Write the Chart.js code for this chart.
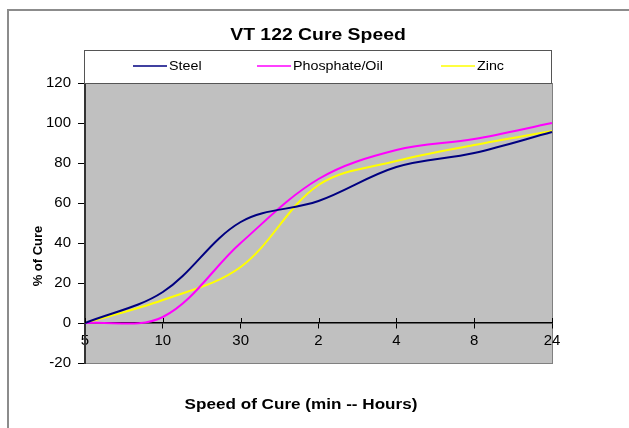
<!DOCTYPE html>
<html>
<head>
<meta charset="utf-8">
<script src="https://cdn.jsdelivr.net/npm/chart.js@4.4.0/dist/chart.umd.min.js"></script>
<style>
  body { margin: 0; background: #fff; }
  canvas { display: block; }
</style>
</head>
<body>
<canvas id="chart" width="629" height="428"></canvas>
<script>
// cure time categories (minutes then hours)
const categories = ['5', '10', '30', '2', '4', '8', '24'];
const steel = [0, 15.5, 50.5, 61, 78, 85, 95.5];
const phosphateOil = [0, 3, 40, 72, 86.5, 92, 100];
const zinc = [0, 11.5, 28, 69, 81, 89, 96];
const yTicks = [-20, 0, 20, 40, 60, 80, 100, 120];

const FONT = '"Liberation Sans", Arial, sans-serif';
const STRETCH = 1.14; // the source text is a bit wider than plain Arial

function wideText(ctx, text, x, y, sx) {
  ctx.save();
  ctx.translate(x, y);
  ctx.scale(sx, 1);
  ctx.fillText(text, 0, 0);
  ctx.restore();
}

// backgrounds, borders, title, legend box and axis titles
const decor = {
  id: 'decor',
  beforeDraw(chart) {
    const { ctx, chartArea: a } = chart;
    ctx.save();
    ctx.fillStyle = '#fff';
    ctx.fillRect(0, 0, chart.width, chart.height);
    // outer frame (cropped)
    ctx.strokeStyle = '#8c8c8c';
    ctx.lineWidth = 2;
    ctx.beginPath();
    ctx.moveTo(8, chart.height + 5);
    ctx.lineTo(8, 10);
    ctx.lineTo(chart.width + 5, 10);
    ctx.stroke();
    // plot area
    ctx.fillStyle = '#c0c0c0';
    ctx.fillRect(a.left, a.top, a.right - a.left, a.bottom - a.top);
    ctx.strokeStyle = '#808080';
    ctx.lineWidth = 1;
    ctx.strokeRect(a.left + 0.5, a.top + 0.5, a.right - a.left, a.bottom - a.top);
    ctx.restore();
  },
  afterDraw(chart) {
    const { ctx } = chart;
    ctx.save();
    // upper half of the crossing x ticks
    const y0 = chart.scales.y.getPixelForValue(0);
    ctx.strokeStyle = '#000';
    ctx.lineWidth = 1;
    categories.forEach((c, i) => {
      const x = Math.round(chart.scales.x.getPixelForValue(i)) + 0.5;
      ctx.beginPath();
      ctx.moveTo(x, y0 - 5);
      ctx.lineTo(x, y0);
      ctx.stroke();
    });

    // title
    ctx.fillStyle = '#000';
    ctx.textAlign = 'center';
    ctx.textBaseline = 'middle';
    ctx.font = 'bold 17px ' + FONT;
    wideText(ctx, 'VT 122 Cure Speed', 318, 35, STRETCH);

    // legend box
    ctx.fillStyle = '#fff';
    ctx.fillRect(84, 50, 467, 33);
    ctx.strokeStyle = '#555';
    ctx.strokeRect(84.5, 50.5, 467, 33);
    const items = [
      { x: 133, label: 'Steel', color: '#000080' },
      { x: 257, label: 'Phosphate/Oil', color: '#ff00ff' },
      { x: 441, label: 'Zinc', color: '#ffff00' }
    ];
    ctx.font = '13px ' + FONT;
    ctx.textAlign = 'left';
    items.forEach(it => {
      ctx.strokeStyle = it.color;
      ctx.lineWidth = 1.5;
      ctx.beginPath();
      ctx.moveTo(it.x, 66);
      ctx.lineTo(it.x + 34, 66);
      ctx.stroke();
      ctx.fillStyle = '#000';
      wideText(ctx, it.label, it.x + 36, 66, 1.1);
    });

    // axis titles
    ctx.font = 'bold 15px ' + FONT;
    ctx.textAlign = 'center';
    wideText(ctx, 'Speed of Cure (min -- Hours)', 301, 405, STRETCH);
    ctx.save();
    ctx.translate(38, 256);
    ctx.rotate(-Math.PI / 2);
    ctx.font = 'bold 13px ' + FONT;
    ctx.fillText('% of Cure', 0, 0);
    ctx.restore();
    ctx.restore();
  }
};

const line = (label, data, color) => ({
  label,
  data,
  borderColor: color,
  backgroundColor: color,
  borderWidth: 2,
  pointRadius: 0,
  tension: 0.35,
  fill: false
});

new Chart(document.getElementById('chart'), {
  type: 'line',
  data: {
    labels: categories,
    datasets: [
      line('Steel', steel, '#000080'),
      line('Phosphate/Oil', phosphateOil, '#ff00ff'),
      line('Zinc', zinc, '#ffff00')
    ]
  },
  options: {
    responsive: false,
    devicePixelRatio: 1,
    animation: false,
    layout: { padding: { left: 0, right: 77, top: 83, bottom: 65 } },
    plugins: {
      legend: { display: false },
      title: { display: false },
      tooltip: { enabled: false }
    },
    scales: {
      x: {
        position: { y: 0 },
        offset: false,
        grid: { drawOnChartArea: false, tickLength: 5, color: '#000' },
        border: { color: '#000', width: 1.5 },
        ticks: {
          color: '#000',
          padding: 4,
          maxRotation: 0,
          autoSkip: false,
          font: { family: FONT, size: 15 }
        }
      },
      y: {
        min: -20,
        max: 120,
        afterFit: s => { s.width = 85; },
        afterBuildTicks: s => { s.ticks = yTicks.map(v => ({ value: v })); },
        grid: { drawOnChartArea: false, tickLength: 7, color: '#000' },
        border: { color: '#333', width: 2 },
        ticks: {
          color: '#000',
          padding: 7,
          font: { family: FONT, size: 15 }
        }
      }
    }
  },
  plugins: [decor]
});
</script>
</body>
</html>
